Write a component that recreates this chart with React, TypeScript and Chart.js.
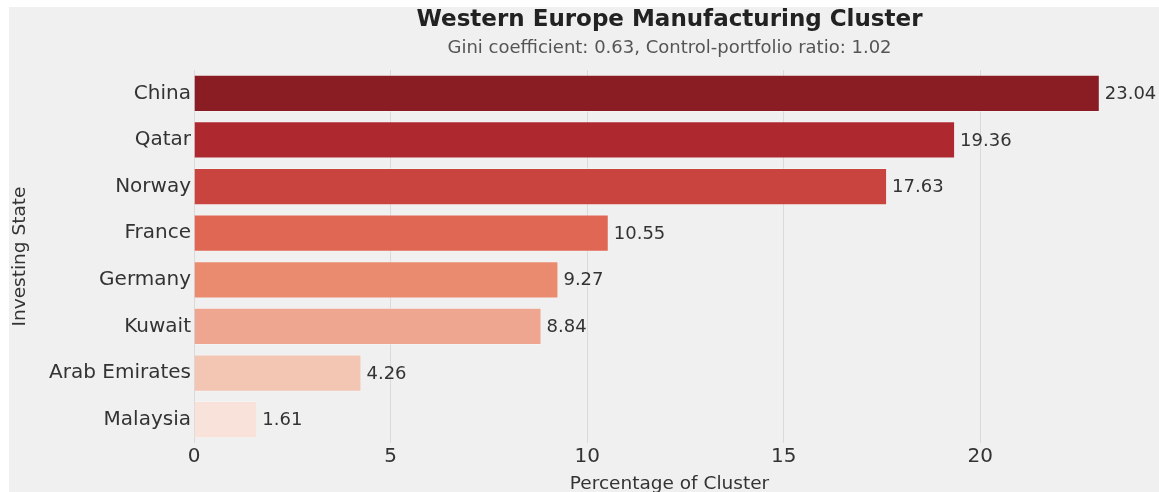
import React, { useEffect, useRef } from "react";
import { Chart, registerables } from "chart.js";

Chart.register(...registerables);

const categories = ["China", "Qatar", "Norway", "France", "Germany", "Kuwait", "Arab Emirates", "Malaysia"];
const values = [23.04, 19.36, 17.63, 10.55, 9.27, 8.84, 4.26, 1.61];
const barColors = ["#8a1c23", "#ae2830", "#c9433f", "#e06753", "#ea8b6f", "#eea690", "#f3c5b3", "#f8e2d9"];
const xTicks = [0, 5, 10, 15, 20];
const xMax = 24.19;

const titleText = "Western Europe Manufacturing Cluster";
const subtitleText = "Gini coefficient: 0.63, Control-portfolio ratio: 1.02";
const xTitle = "Percentage of Cluster";
const yTitle = "Investing State";

const FONT = "'DejaVu Sans', sans-serif";

const valueLabels = {
  id: "valueLabels",
  afterDatasetsDraw(chart: any) {
    const ctx = chart.ctx;
    const meta = chart.getDatasetMeta(0);
    ctx.save();
    ctx.font = `18px ${FONT}`;
    ctx.fillStyle = "#333333";
    ctx.textAlign = "left";
    ctx.textBaseline = "middle";
    meta.data.forEach((bar: any, i: number) => {
      ctx.fillText(values[i].toFixed(2), bar.x + 5, bar.y + 1);
    });
    ctx.restore();
  },
};

const bgPlugin = {
  id: "bgPlugin",
  beforeDraw(chart: any) {
    const ctx = chart.ctx;
    ctx.save();
    ctx.fillStyle = "#f0f0f0";
    ctx.fillRect(0, 0, chart.width, chart.height);
    ctx.restore();
  },
};

const titlePlugin = {
  id: "axesTitle",
  afterDraw(chart: any) {
    const ctx = chart.ctx;
    const a = chart.chartArea;
    const cx = (a.left + a.right) / 2;
    ctx.save();
    ctx.textAlign = "center";
    ctx.textBaseline = "middle";
    ctx.fillStyle = "#222222";
    ctx.font = `bold 23px ${FONT}`;
    ctx.fillText(titleText, cx, 13);
    ctx.fillStyle = "#555555";
    ctx.font = `18px ${FONT}`;
    ctx.fillText(subtitleText, cx, 41);
    ctx.restore();
  },
};

export default function App() {
  const ref = useRef<HTMLCanvasElement | null>(null);
  useEffect(() => {
    if (!ref.current) return;
    const chart = new Chart(ref.current, {
      type: "bar",
      data: {
        labels: categories,
        datasets: [
          {
            data: values,
            backgroundColor: barColors,
            borderColor: "rgba(255,255,255,0.25)",
            borderWidth: 1,
            barPercentage: 0.8,
            categoryPercentage: 1,
          },
        ],
      },
      options: {
        indexAxis: "y",
        animation: false,
        responsive: true,
        maintainAspectRatio: false,
        layout: { padding: { left: 0, right: 14, top: 63, bottom: 0 } },
        plugins: {
          legend: { display: false },
          tooltip: { enabled: false },
          title: { display: false },
          subtitle: { display: false },
        },
        scales: {
          x: {
            type: "linear",
            min: 0,
            max: xMax,
            afterBuildTicks(scale: any) {
              scale.ticks = xTicks.map((v) => ({ value: v }));
            },
            afterFit(scale: any) {
              scale.height = 49;
            },
            grid: { color: "#dadada", lineWidth: 1, drawTicks: false },
            border: { display: false },
            ticks: {
              color: "#333333",
              font: { family: FONT, size: 20 },
              padding: 2,
            },
            title: {
              display: true,
              text: xTitle,
              color: "#333333",
              font: { family: FONT, size: 18.5 },
              padding: { top: 0, bottom: -3 },
            },
          },
          y: {
            type: "category",
            afterFit(scale: any) {
              scale.width = 185;
            },
            grid: { display: false, drawTicks: false },
            border: { display: false },
            ticks: {
              color: "#333333",
              font: { family: FONT, size: 20 },
              padding: 3,
            },
            title: {
              display: true,
              text: yTitle,
              color: "#333333",
              font: { family: FONT, size: 18.5 },
              padding: { top: 0, bottom: 0 },
            },
          },
        },
      },
      plugins: [bgPlugin, valueLabels, titlePlugin],
    } as any);
    return () => chart.destroy();
  }, []);
  return (
    <div style={{ position: "fixed", left: 9, top: 7, right: 0, bottom: 0 }}>
      <canvas ref={ref} />
    </div>
  );
}
